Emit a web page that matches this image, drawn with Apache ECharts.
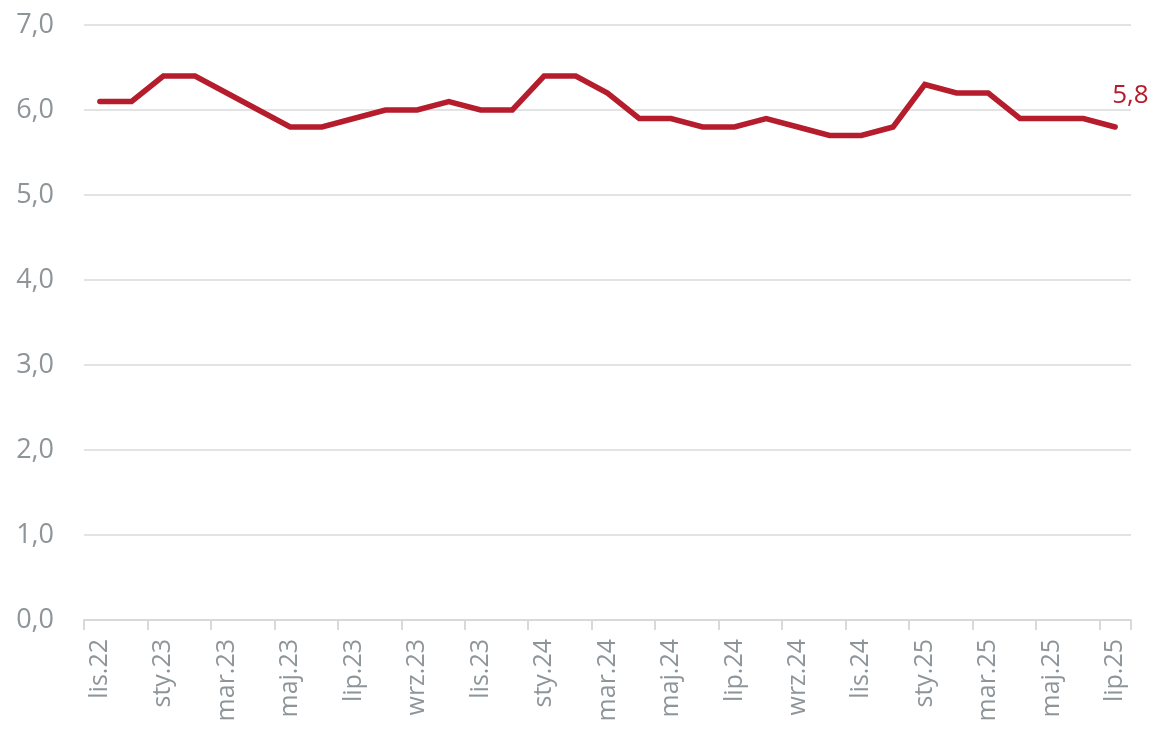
<!DOCTYPE html>
<html>
<head>
<meta charset="utf-8">
<script src="https://cdn.jsdelivr.net/npm/echarts@6/dist/echarts.min.js"></script>
<style>html,body{margin:0;padding:0;background:#fff;}#c{width:1155px;height:730px;}</style>
</head>
<body>
<div id="c"></div>
<script>
const categories = ['lis.22','gru.22','sty.23','lut.23','mar.23','kwi.23','maj.23','cze.23','lip.23','sie.23','wrz.23','paź.23','lis.23','gru.23','sty.24','lut.24','mar.24','kwi.24','maj.24','cze.24','lip.24','sie.24','wrz.24','paź.24','lis.24','gru.24','sty.25','lut.25','mar.25','kwi.25','maj.25','cze.25','lip.25'];
const values = [6.1,6.1,6.4,6.4,6.2,6.0,5.8,5.8,5.9,6.0,6.0,6.1,6.0,6.0,6.4,6.4,6.2,5.9,5.9,5.8,5.8,5.9,5.8,5.7,5.7,5.8,6.3,6.2,6.2,5.9,5.9,5.9,5.8];
const yTicks = {min: 0, max: 7, interval: 1};

const fmt = v => v.toFixed(1).replace('.', ',');
const lineColor = '#b51c2c';
const gray = '#8e9599';
const font = 'Open Sans';

const chart = echarts.init(document.getElementById('c'));
chart.setOption({
  animation: false,
  grid: {left: 84, right: 24, top: 25, bottom: 110, containLabel: false},
  xAxis: {
    type: 'category',
    data: categories,
    boundaryGap: true,
    axisLine: {show: true, lineStyle: {color: '#d9d9d9', width: 2}},
    axisTick: {show: true, interval: 1, length: 10, lineStyle: {color: '#d9d9d9', width: 2}},
    axisLabel: {interval: 1, rotate: 90, color: gray, fontSize: 25, fontFamily: font, margin: 19}
  },
  yAxis: {
    type: 'value',
    min: yTicks.min, max: yTicks.max, interval: yTicks.interval,
    axisLine: {show: false},
    axisTick: {show: false},
    splitLine: {lineStyle: {color: '#e3e3e3', width: 2}},
    axisLabel: {formatter: v => fmt(v), color: gray, fontSize: 27, fontFamily: font, margin: 30}
  },
  series: [{
    type: 'line',
    data: values,
    symbol: 'none',
    lineStyle: {color: lineColor, width: 5.5, cap: 'round', join: 'miter'},
    itemStyle: {color: lineColor},
    endLabel: {
      show: true, distance: 0, offset: [-3, -31],
      formatter: p => fmt(p.value),
      color: lineColor, fontSize: 26, fontFamily: font
    }
  }]
});
</script>
</body>
</html>
